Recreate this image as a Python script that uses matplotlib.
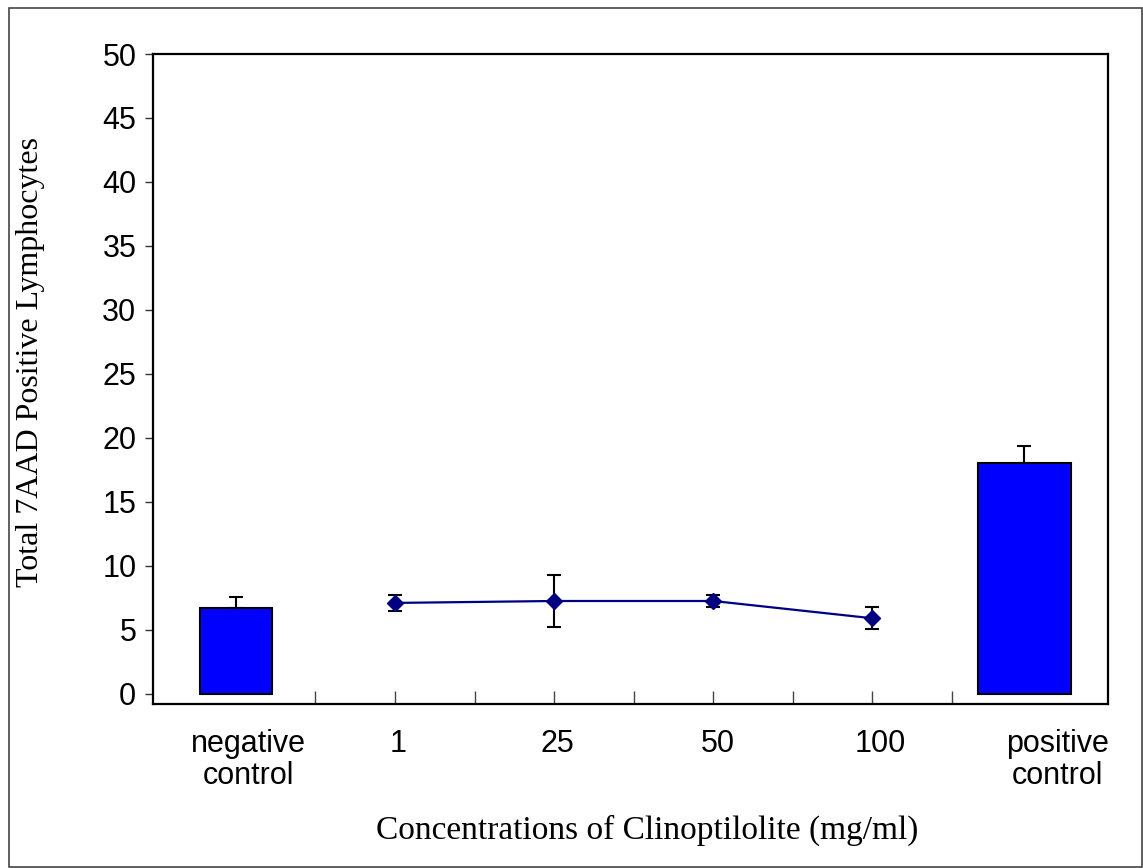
import matplotlib
matplotlib.use("Agg")
import matplotlib.pyplot as plt
from matplotlib.patches import Rectangle

# datos
categorias = ["negative\ncontrol", "1", "25", "50", "100", "positive\ncontrol"]
conc_x = [1, 2, 3, 4]
conc_media = [7.1, 7.25, 7.25, 5.9]
conc_err = [0.6, 2.0, 0.5, 0.85]
control_x = [0, 4.955]
control_media = [6.7, 18.0]
control_err = [0.9, 1.35]
control_ancho = [0.45, 0.58]
label_x = [0.08, 1.02, 2.02, 3.03, 4.05, 5.16]

fig = plt.figure(figsize=(11.43, 8.68), dpi=100)
ax = fig.add_axes([153/1143, 1 - 704/868, (1108-153)/1143, (704-54)/868])

# barras de controles
ax.bar(control_x, control_media, width=control_ancho, color="#0000FF",
       edgecolor="black", linewidth=1.5, zorder=2)
ax.errorbar(control_x, control_media, yerr=[[0, 0], control_err], fmt="none",
            ecolor="black", elinewidth=1.5, capsize=5, capthick=1.5, zorder=3)

# linea de concentraciones
ax.errorbar(conc_x, conc_media, yerr=conc_err, fmt="none", ecolor="black",
            elinewidth=1.5, capsize=5, capthick=1.5, zorder=3)
ax.plot(conc_x, conc_media, color="#000080", linewidth=1.6, marker="D",
        markersize=8, markerfacecolor="#000080", markeredgecolor="#000080", zorder=4)

ax.set_xlim(-0.52, 5.48)
ax.set_ylim(-0.8, 50)
ax.set_yticks(range(0, 51, 5))
ax.tick_params(axis="y", direction="out", length=6, width=1, pad=6,
               labelsize=22, color="#333333")
for t in ax.get_yticklabels():
    t.set_fontfamily("Liberation Sans")

ax.set_xticks(label_x)
ax.set_xticklabels(categorias, fontsize=22, fontfamily="Liberation Sans",
                   linespacing=1.1)
ax.tick_params(axis="x", which="major", length=0, pad=18)
ax.set_xticks([0.5, 1, 1.5, 2, 2.5, 3, 3.5, 4, 4.5], minor=True)
ax.tick_params(axis="x", which="minor", direction="in", length=9.5, width=1,
               color="#444444")

for s in ax.spines.values():
    s.set_linewidth(1.6)

ax.set_ylabel("Total 7AAD Positive Lymphocytes", fontsize=23,
              fontfamily="Liberation Serif")
ax.yaxis.set_label_coords(-0.113, 0.526)
ax.set_xlabel("Concentrations of Clinoptilolite (mg/ml)", fontsize=24,
              fontfamily="Liberation Serif")
ax.xaxis.set_label_coords(0.517, -0.171)

# marco exterior
fig.patches.append(Rectangle((9/1143, 1/868), 1133/1143, 859/868,
                             transform=fig.transFigure, fill=False,
                             edgecolor="#444444", linewidth=1.2))

fig.savefig("out.png", dpi=100)
